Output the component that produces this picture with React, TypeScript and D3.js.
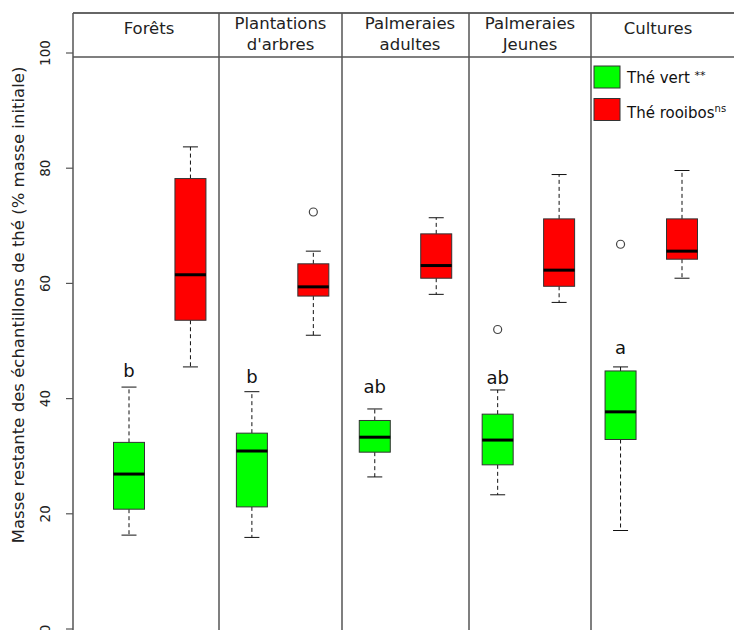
import React from "react";
import * as d3 from "d3";

// Habitat panels (header lines) and tea types
const habitatLines: string[][] = [
  ["Forêts"],
  ["Plantations", "d'arbres"],
  ["Palmeraies", "adultes"],
  ["Palmeraies", "Jeunes"],
  ["Cultures"],
];
const teaNames = ["Thé vert", "Thé rooibos"];

// Box summaries per habitat: [lower whisker, Q1, median, Q3, upper whisker]
const greenStats: number[][] = [
  [16.3, 20.8, 26.9, 32.4, 42.0],
  [15.9, 21.2, 30.9, 34.0, 41.2],
  [26.4, 30.7, 33.3, 36.2, 38.2],
  [23.3, 28.5, 32.8, 37.3, 41.5],
  [17.1, 32.9, 37.7, 44.8, 45.5],
];
const redStats: number[][] = [
  [45.5, 53.6, 61.5, 78.2, 83.7],
  [51.0, 57.8, 59.4, 63.4, 65.6],
  [58.1, 60.9, 63.1, 68.6, 71.4],
  [56.7, 59.5, 62.3, 71.2, 78.9],
  [60.9, 64.2, 65.6, 71.2, 79.6],
];
const greenOutliers: number[][] = [[], [], [], [52.0], [66.8]];
const redOutliers: number[][] = [[], [72.4], [], [], []];

// Significance letters for green tea and the height they sit at
const letters = ["b", "b", "ab", "ab", "a"];
const letterHeights = [43.7, 42.7, 41.0, 42.5, 47.7];

const yTicks = [0, 20, 40, 60, 80, 100];

const W = 734;
const H = 630;
const FONT = "'DejaVu Sans', Verdana, sans-serif";
const GREEN = "#00ff00";
const RED = "#ff0000";
const FRAME = "#555";

// Panel layout
const axisX = 73;
const frameTop = 13;
const stripBottom = 57;
const dividers = [219, 342, 469, 591];
const panelRight = 745;
const headerCenters = [149, 280.5, 410, 530, 658];

export default function App() {
  const y = d3.scaleLinear().domain([0, 100]).range([629, 53]);

  const slots = habitatLines.flatMap((_, i) => [`g${i}`, `r${i}`]);
  const x = d3.scalePoint<string>().domain(slots).range([129, 682]);
  const boxW = 31;
  const capW = 15;

  const boxes = habitatLines.flatMap((_, i) => [
    { key: `g${i}`, stats: greenStats[i], out: greenOutliers[i], fill: GREEN },
    { key: `r${i}`, stats: redStats[i], out: redOutliers[i], fill: RED },
  ]);

  return (
    <svg
      width={W}
      height={H}
      style={{ position: "absolute", left: 0, top: 0, background: "#fff" }}
      fontFamily={FONT}
    >
      <rect x={0} y={0} width={W} height={H} fill="#fff" />

      {/* y axis label */}
      <text
        transform={`translate(18, 305) rotate(-90)`}
        textAnchor="middle"
        dy="0.35em"
        fontSize={16.5}
        fill="#222"
      >
        Masse restante des échantillons de thé (% masse initiale)
      </text>

      {/* y ticks */}
      {yTicks.map((t) => (
        <g key={t}>
          <line x1={axisX - 7} x2={axisX} y1={y(t)} y2={y(t)} stroke={FRAME} strokeWidth={1.2} />
          <text
            transform={`translate(45, ${y(t)}) rotate(-90)`}
            textAnchor="middle"
            dy="0.35em"
            fontSize={13.5}
            fill="#222"
          >
            {t}
          </text>
        </g>
      ))}

      {/* frame: top, strip bottom, axis and panel dividers */}
      <line x1={axisX} x2={panelRight} y1={frameTop} y2={frameTop} stroke="#333" strokeWidth={1.5} />
      <line x1={axisX} x2={panelRight} y1={stripBottom} y2={stripBottom} stroke={FRAME} strokeWidth={1.5} />
      {[axisX, ...dividers].map((d) => (
        <line key={d} x1={d} x2={d} y1={frameTop} y2={H} stroke={FRAME} strokeWidth={1.5} />
      ))}

      {/* strip headers */}
      {habitatLines.map((lines, i) => {
        const baselines = lines.length === 1 ? [34] : [28.5, 50];
        return lines.map((ln, j) => (
          <text key={`${i}-${j}`} x={headerCenters[i]} y={baselines[j]} textAnchor="middle" fontSize={16.5} fill="#222">
            {ln}
          </text>
        ));
      })}

      {/* boxplots */}
      {boxes.map((b) => {
        const cx = x(b.key)!;
        const [lo, q1, med, q3, hi] = b.stats;
        return (
          <g key={b.key}>
            <line x1={cx} x2={cx} y1={y(q3)} y2={y(hi)} stroke="#111" strokeWidth={1} strokeDasharray="4,3" />
            <line x1={cx} x2={cx} y1={y(q1)} y2={y(lo)} stroke="#111" strokeWidth={1} strokeDasharray="4,3" />
            <line x1={cx - capW / 2} x2={cx + capW / 2} y1={y(hi)} y2={y(hi)} stroke="#111" strokeWidth={1} />
            <line x1={cx - capW / 2} x2={cx + capW / 2} y1={y(lo)} y2={y(lo)} stroke="#111" strokeWidth={1} />
            <rect
              x={cx - boxW / 2}
              y={y(q3)}
              width={boxW}
              height={y(q1) - y(q3)}
              fill={b.fill}
              stroke="#333"
              strokeWidth={1}
            />
            <line x1={cx - boxW / 2} x2={cx + boxW / 2} y1={y(med)} y2={y(med)} stroke="#000" strokeWidth={3} />
            {b.out.map((o, k) => (
              <circle key={k} cx={cx} cy={y(o)} r={4} fill="none" stroke="#444" strokeWidth={1.2} />
            ))}
          </g>
        );
      })}

      {/* significance letters */}
      {letters.map((l, i) => (
        <text key={i} x={x(`g${i}`)!} y={y(letterHeights[i])} textAnchor="middle" fontSize={18} fill="#111">
          {l}
        </text>
      ))}

      {/* legend */}
      <g>
        <rect x={594} y={66} width={26} height={22} fill={GREEN} stroke="#333" strokeWidth={1} />
        <rect x={594} y={98.5} width={26} height={22} fill={RED} stroke="#333" strokeWidth={1} />
        <text x={627} y={83} fontSize={15} fill="#111">
          {teaNames[0]} <tspan fontSize={11} dy={-4}>**</tspan>
        </text>
        <text x={627} y={118} fontSize={15} fill="#111">
          {teaNames[1]}
          <tspan fontSize={10} dy={-6}>ns</tspan>
        </text>
      </g>
    </svg>
  );
}
